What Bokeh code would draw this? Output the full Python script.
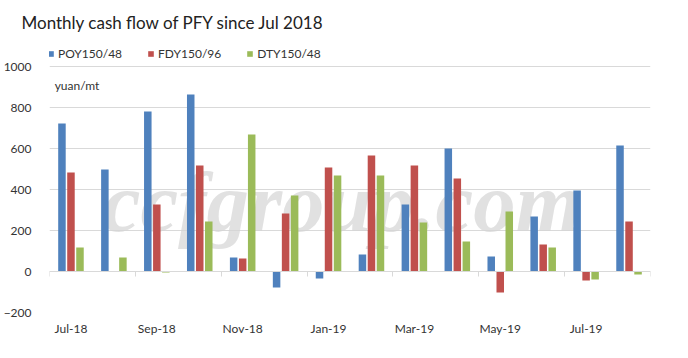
from bokeh.plotting import figure
from bokeh.models import (Range1d, FixedTicker, LinearAxis, Legend, LegendItem,
                          Label, Title)
from bokeh.embed import file_html
from bokeh.resources import INLINE

months = ["Jul-18", "Aug-18", "Sep-18", "Oct-18", "Nov-18", "Dec-18", "Jan-19",
          "Feb-19", "Mar-19", "Apr-19", "May-19", "Jun-19", "Jul-19", "Aug-19"]
poy = [722, 498, 780, 863, 68, -78, -34, 83, 327, 600, 73, 268, 395, 615]
fdy = [483, 0, 327, 517, 63, 283, 507, 566, 517, 454, -102, 132, -44, 244]
dty = [117, 68, -5, 244, 668, 371, 468, 468, 239, 146, 293, 117, -39, -15]
series_names = ["POY150/48", "FDY150/96", "DTY150/48"]
y_ticks = [-200, 0, 200, 400, 600, 800, 1000]
title_text = "Monthly cash flow of PFY since Jul 2018"

colors = ["#4F81BD", "#C0504D", "#9BBB59"]
FONT = "Lato"

idx = list(range(len(months)))

# frame: left 48, right 650, top 34 (legend lives in the frame's top strip), bottom 312
W, H = 672, 342
FL, FR, FT, FB = 48, 650, 34, 312
y_min, y_max_tick = -200, 1000
px_per_unit = (FB - 66) / (y_max_tick - y_min)
y_top = y_min + (FB - FT) / px_per_unit

p = figure(width=W, height=H, x_range=Range1d(-0.5, len(months) - 0.5),
           y_range=Range1d(y_min, y_top), output_backend="svg",
           toolbar_location=None, title=None,
           min_border_left=FL, min_border_right=W - FR, min_border_bottom=H - FB,
           min_border_top=FT)
p.outline_line_color = None
p.background_fill_color = "white"

# watermark
p.add_layout(Label(x=6.32, y=337, text="ccfgroup.com", text_font="Liberation Serif",
                   text_font_style="bold italic", text_font_size="85px",
                   text_color="#d4d4d4", text_alpha=0.7, text_align="center",
                   text_baseline="alphabetic", level="underlay"))

offsets = [-0.21, 0.0, 0.21]
renderers = []
for vals, off, col in zip([poy, fdy, dty], offsets, colors):
    r = p.vbar(x=[i + off for i in idx], top=vals, bottom=0, width=0.175,
               fill_color=col, line_color=None)
    renderers.append(r)

# y axis
p.yaxis.ticker = FixedTicker(ticks=y_ticks)
p.yaxis.axis_line_color = None
p.yaxis.major_tick_line_color = None
p.yaxis.minor_tick_line_color = None
p.yaxis.major_label_text_font = FONT
p.yaxis.major_label_text_font_size = "12px"
p.yaxis.major_label_text_color = "#333333"
p.yaxis.major_label_standoff = 12

p.ygrid.ticker = FixedTicker(ticks=y_ticks)
p.ygrid.grid_line_color = "#d9d9d9"
p.xgrid.grid_line_color = None

# x axis labels at bottom
p.xaxis.ticker = FixedTicker(ticks=idx[::2])
p.xaxis.major_label_overrides = {i: months[i] for i in idx}
p.xaxis.axis_line_color = None
p.xaxis.major_tick_line_color = None
p.xaxis.minor_tick_line_color = None
p.xaxis.major_label_text_font = FONT
p.xaxis.major_label_text_font_size = "12px"
p.xaxis.major_label_text_color = "#333333"
p.xaxis.major_label_standoff = 2

# zero line axis with tick marks between category pairs
zaxis = LinearAxis(fixed_location=0,
                   ticker=FixedTicker(ticks=[], minor_ticks=[i - 0.5 for i in idx[::2]] + [len(months) - 0.5]),
                   axis_line_color="#d9d9d9", minor_tick_line_color="#d9d9d9",
                   minor_tick_out=5, minor_tick_in=0, major_tick_line_color=None,
                   major_label_text_font_size="0px")
p.add_layout(zaxis, "below")

p.add_layout(Label(x=-0.38, y=907, text="yuan/mt", text_font=FONT,
                   text_font_size="12px", text_color="#333333",
                   text_baseline="middle"))

legend = Legend(items=[LegendItem(label=n, renderers=[r]) for n, r in zip(series_names, renderers)],
                orientation="horizontal", location=(-2, FB - 61), margin=0, padding=2,
                spacing=25, glyph_width=7, glyph_height=7, label_standoff=4,
                label_text_font=FONT, label_text_font_size="12px",
                label_text_color="#333333", border_line_color=None,
                background_fill_alpha=0)
p.add_layout(legend)

p.add_layout(Title(text=title_text, text_font=FONT, text_font_size="17px",
                   text_font_style="normal", text_color="#222222",
                   offset=-28, standoff=4), "above")

open("out.html", "w").write(file_html(p, INLINE))
